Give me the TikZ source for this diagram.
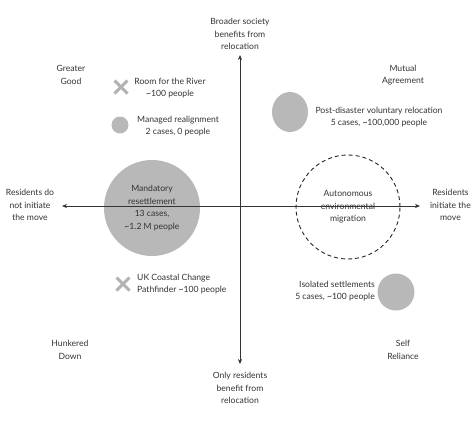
\documentclass[tikz,border=0pt]{standalone}
\usepackage{fontspec}
\setmainfont{Lato}
\usetikzlibrary{positioning, calc, arrows.meta, shapes.misc, shapes.geometric}

\tikzset{
  lbl/.style={align=center, inner sep=0pt, font=\fontsize{8.6}{12.6}\selectfont, text=black!80},
  blob/.style={circle, fill=black!28, inner sep=0pt},
  xmark/.style={cross out, draw=black!30, line width=3pt, minimum size=10pt, inner sep=0pt},
  axis/.style={black!80, line width=0.6pt, -{Stealth[length=5pt,width=4pt]}}
}

\begin{document}
\begin{tikzpicture}[x=1pt, y=-1pt]
  \useasboundingbox (0,0) rectangle (472,424);

  % axes
  \coordinate (origin) at (240,206);
  \coordinate (topend) at (240,55);
  \coordinate (botend) at (240,364);
  \coordinate (leftend) at (62,206);
  \coordinate (rightend) at (420,206);

  % circles and markers
  \node[blob, minimum size=96pt] (mandatory) at (152,208) {};
  \node[circle, draw=black!85, line width=0.9pt, dash pattern=on 4pt off 3pt, minimum size=104pt, inner sep=0pt] (autonomous) at (348,207) {};
  \node[blob, ellipse, minimum width=36pt, minimum height=40pt] (postdis) at (290,112) {};
  \node[blob, minimum size=37pt] (isolated) at (396,292) {};
  \node[blob, minimum size=17pt] (managed) at (120,125) {};
  \node[xmark] (river) at (121,87) {};
  \node[xmark] (coastal) at (123,284) {};

  \draw[axis] (origin) -- (topend);
  \draw[axis] (origin) -- (botend);
  \draw[axis] (origin) -- (leftend);
  \draw[axis] (origin) -- (rightend);

  % axis labels
  \node[lbl] (broader) at (240,34) {Broader society\\benefits from\\relocation};
  \node[lbl] (onlyres) at (240,388) {Only residents\\benefit from\\relocation};
  \node[lbl] (noinit) at (30,205) {Residents do\\not initiate\\the move};
  \node[lbl, anchor=east] (init) at (471,205) {Residents\\initiate the\\move};

  % quadrants
  \node[lbl] (greater) at (71,75) {Greater\\Good};
  \node[lbl] (mutual) at (403,75) {Mutual\\Agreement};
  \node[lbl] (hunkered) at (70,350) {Hunkered\\Down};
  \node[lbl] (selfrel) at (403,350) {Self\\Reliance};

  % case labels
  \node[lbl] (rivertxt) at (170,88) {Room for the River\\\textasciitilde100 people};
  \node[lbl] (managedtxt) at (178,126) {Managed realignment\\2 cases, 0 people};
  \node[lbl] at (mandatory) {Mandatory\\resettlement\\13 cases,\\\textasciitilde1.2 M people};
  \node[lbl, align=left, anchor=west] (coastaltxt) at (137,284) {UK Coastal Change\\Pathfinder \textasciitilde100 people};
  \node[lbl] (postdistxt) at (379,117) {Post-disaster voluntary relocation\\5 cases, \textasciitilde100,000 people};
  \node[lbl] at (autonomous) {Autonomous\\environmental\\migration};
  \node[lbl, align=right, anchor=east] (isolatedtxt) at (375,291) {Isolated settlements\\5 cases, \textasciitilde100 people};
\end{tikzpicture}
\end{document}
